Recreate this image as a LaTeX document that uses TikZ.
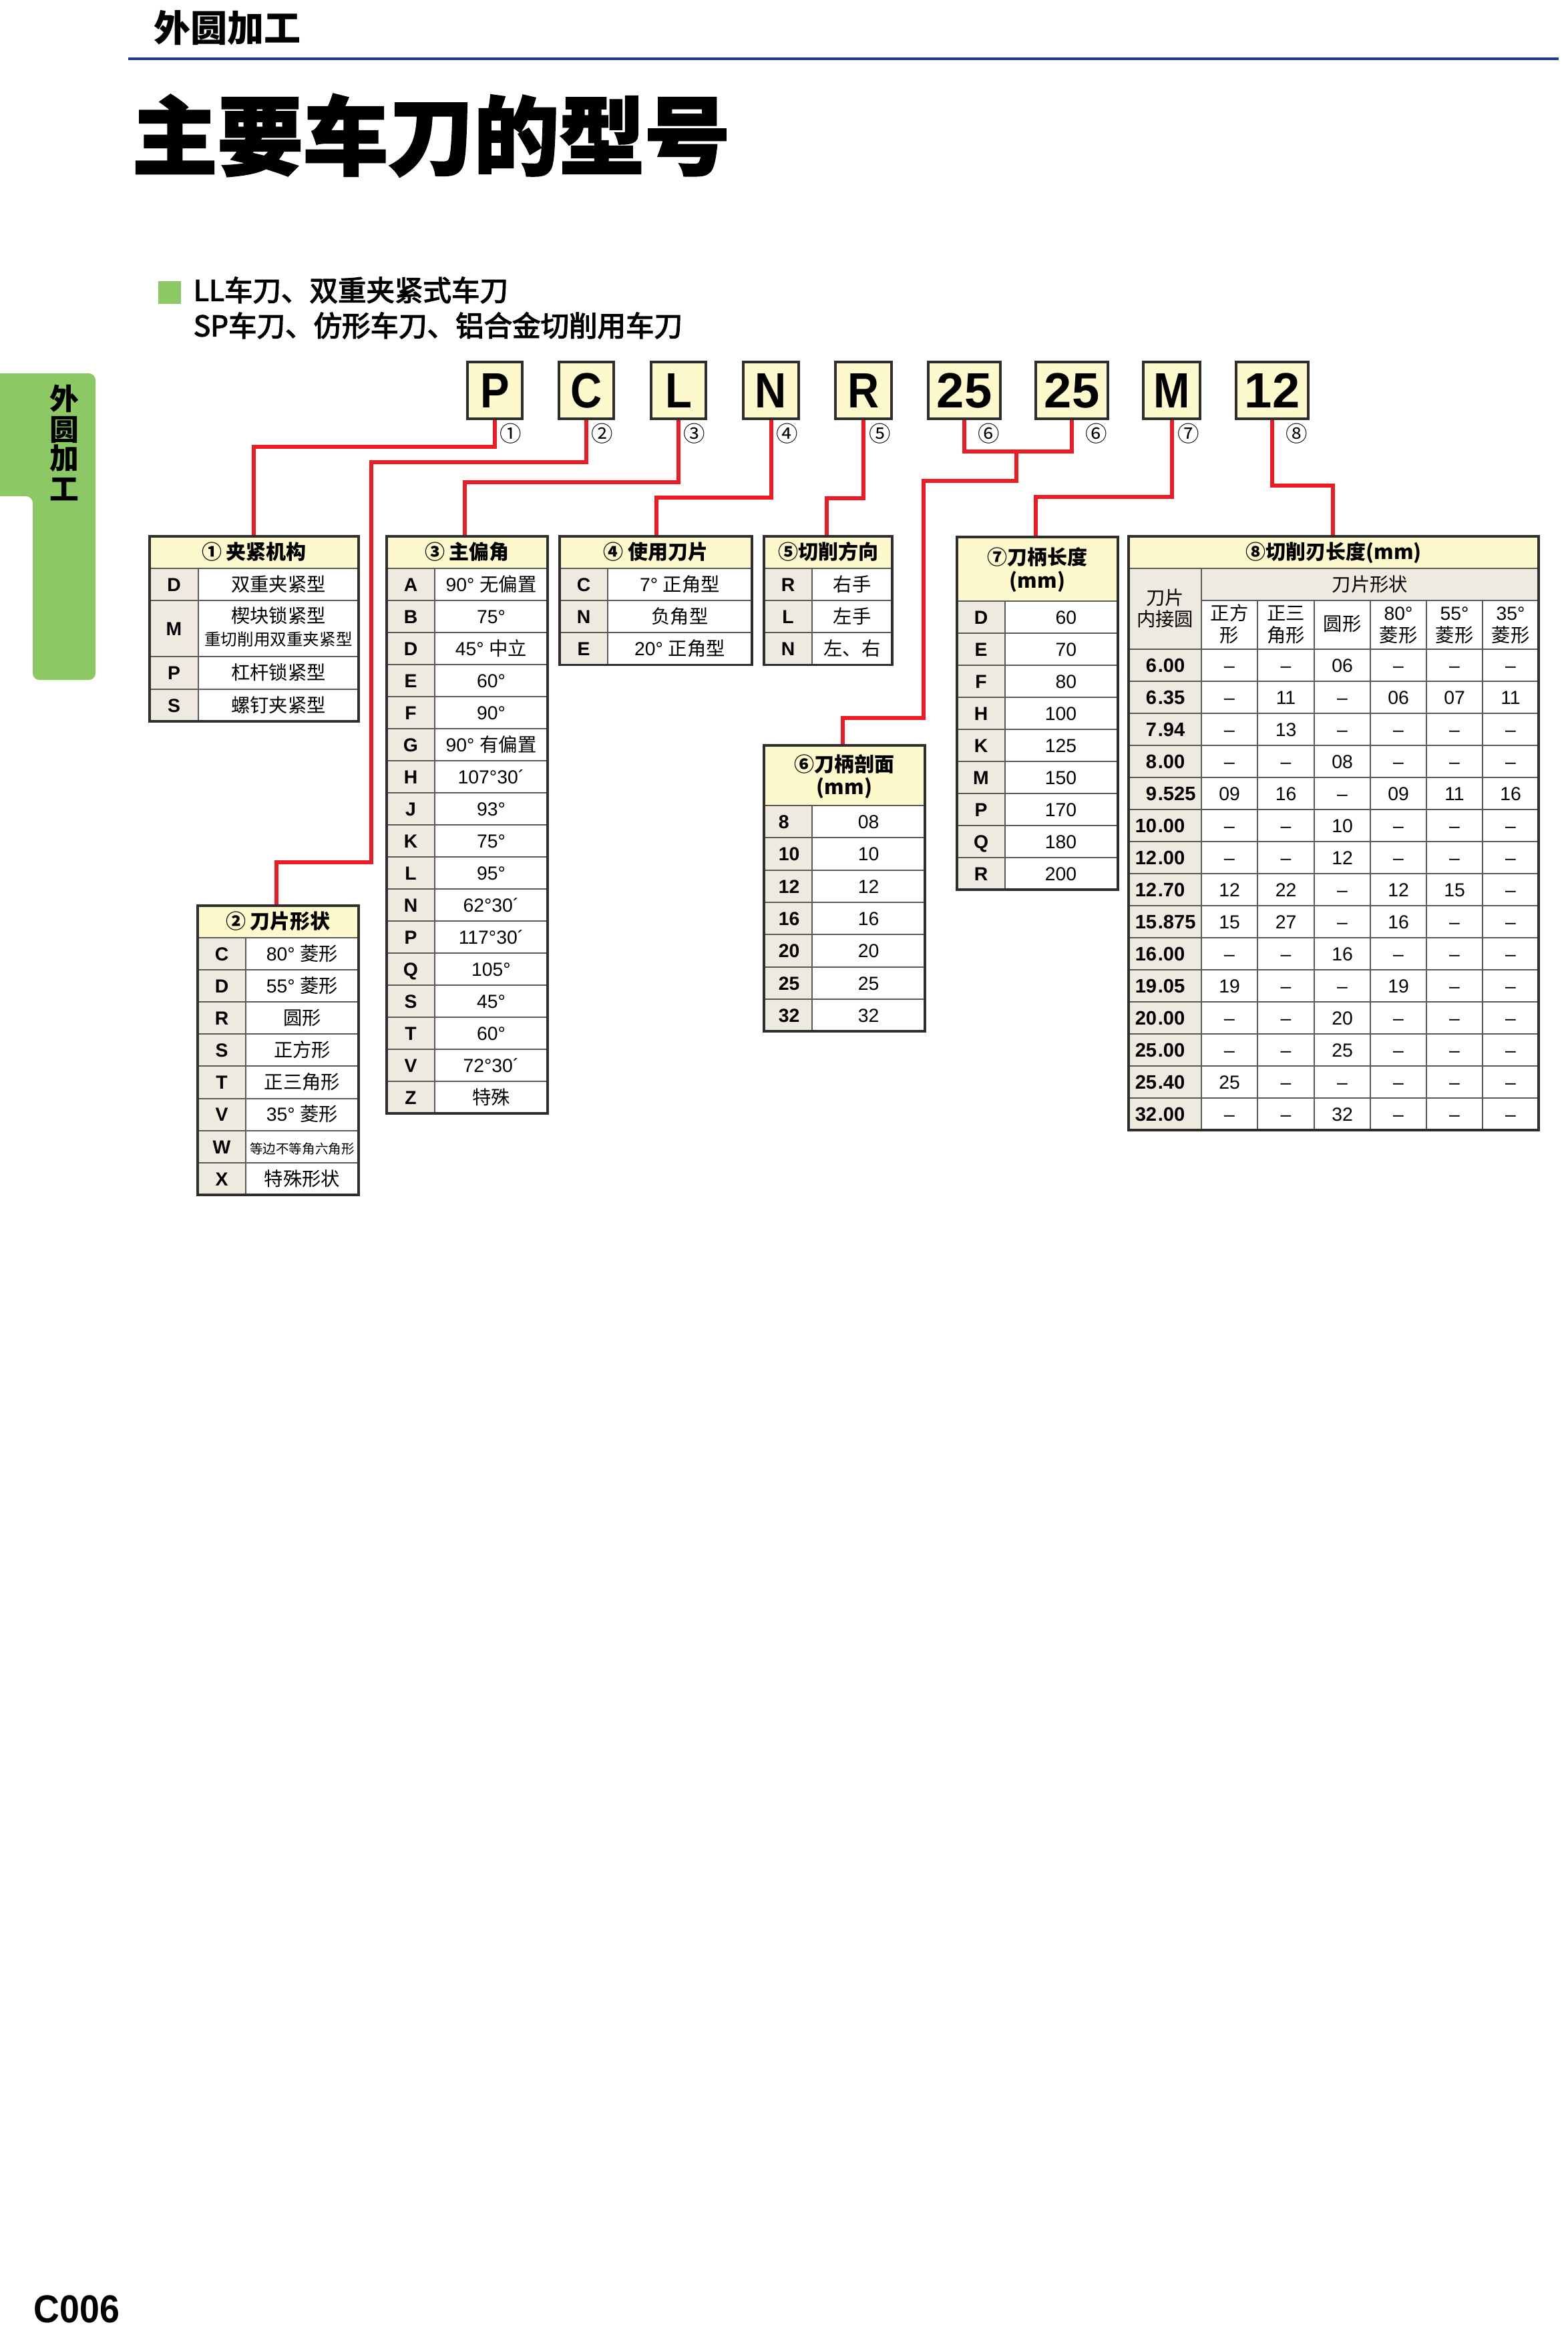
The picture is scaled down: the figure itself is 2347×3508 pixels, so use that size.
\documentclass[tikz,border=0pt]{standalone}
\usepackage{fontspec}
\setmainfont{Liberation Sans}
\newfontfamily\cjk{Noto Sans CJK SC}
\newfontfamily\cjkmed[FakeBold=3]{Noto Sans CJK SC}
\newfontfamily\titlefont[FakeBold=2]{Noto Sans CJK SC}
\newdimen\px \px=0.24pt
\definecolor{hdry}{HTML}{FEF9CC}
\definecolor{beige}{HTML}{EEEAE0}
\definecolor{redl}{HTML}{ED1C24}
\definecolor{tabg}{HTML}{8CC864}
\definecolor{navy}{HTML}{1E3A8C}
\definecolor{outerc}{HTML}{2E2E2E}
\definecolor{innerc}{HTML}{5A5A5A}
\newcommand\C[1]{{\cjk #1}}
\newcommand\CB[1]{{\cjk\bfseries #1}}
\newcommand\fs[1]{\fontsize{#1}{#1}\selectfont}
\tikzset{
 txt/.style={inner sep=0pt, font=\fs{#1pt}, text height={0.76*#1pt}, text depth={0.03*#1pt}},
 btxt/.style={inner sep=0pt, font=\fs{#1pt}\bfseries, text height={0.76*#1pt}, text depth={0.03*#1pt}},
 outer/.style={draw=outerc, line width=3.5\px},
 inner/.style={draw=innerc, line width=2\px},
 conn/.style={draw=redl, line width=6\px},
 lbox/.style={draw=outerc, line width=4\px, fill=hdry, inner sep=0pt, minimum height=85\px, font=\fs{17.8pt}\bfseries, text height=12.7pt, text depth=0pt},
 circ/.style={txt=7.8, anchor=east, font=\cjk\fs{7.8pt}},
}
\newcommand\frametable[7]{%
 \fill[hdry] (#1,#4) rectangle (#3,#5);
 \fill[beige] (#1,#5) rectangle (#2,{#5+#6*#7});
 \foreach \k in {0,...,#6} \draw[inner] (#1,{#5+\k*#7}) -- (#3,{#5+\k*#7});
 \draw[inner] (#2,#5) -- (#2,{#5+#6*#7});
 \draw[outer] (#1,#4) rectangle (#3,{#5+#6*#7});
}
\begin{document}
\begin{tikzpicture}[x=0.24pt,y=-0.24pt]
\useasboundingbox (0,0) rectangle (2347,3508);

% side tab
\fill[tabg, rounded corners=10\px] (-30,559) -- (143,559) -- (143,1018) -- (49,1018) -- (49,743) -- (-30,743) -- cycle;
\foreach \ch/\yy [count=\i] in {外/598,圆/644,加/687,工/733}
  \node[txt=10.5, font=\cjk\bfseries\fs{10.5pt}] (tab\i) at (96,\yy) {\ch};

% heading
\node[txt=13.2, anchor=west, font=\cjk\bfseries\fs{13.2pt}] (sect) at (230,42) {外圆加工};
\draw[navy, line width=4\px] (192,88) -- (2334,88);
\node[txt=30.7, anchor=west, font=\titlefont\bfseries\fs{30.7pt}] (title) at (197,205) {主要车刀的型号};

\fill[tabg] (237,421) rectangle (271,455);
\node[txt=10.2, anchor=west, font=\cjkmed\fs{10.2pt}] (sub1) at (289,435) {LL车刀、双重夹紧式车刀};
\node[txt=10.2, anchor=west, font=\cjkmed\fs{10.2pt}] (sub2) at (289,488) {SP车刀、仿形车刀、铝合金切削用车刀};

% code letters
\node[lbox, minimum width=82\px] (bP) at (741,584.5) {\scalebox{0.88}[1]{P}};
\node[lbox, minimum width=82\px] (bC) at (878,584.5) {\scalebox{0.88}[1]{C}};
\node[lbox, minimum width=82\px] (bL) at (1016,584.5) {\scalebox{0.88}[1]{L}};
\node[lbox, minimum width=83\px] (bN) at (1154.5,584.5) {\scalebox{0.88}[1]{N}};
\node[lbox, minimum width=84\px] (bR) at (1293,584.5) {\scalebox{0.88}[1]{R}};
\node[lbox, minimum width=108\px] (b25a) at (1444,584.5) {25};
\node[lbox, minimum width=108\px] (b25b) at (1605,584.5) {25};
\node[lbox, minimum width=85\px] (bM) at (1754.5,584.5) {\scalebox{0.88}[1]{M}};
\node[lbox, minimum width=108\px] (b12) at (1905,584.5) {12};

\node[circ] (n1) at (782,650) {①};
\node[circ] (n2) at (919,650) {②};
\node[circ] (n3) at (1057,650) {③};
\node[circ] (n4) at (1196,650) {④};
\node[circ] (n5) at (1335,650) {⑤};
\node[circ] (n6a) at (1498,650) {⑥};
\node[circ] (n6b) at (1659,650) {⑥};
\node[circ] (n7) at (1797,650) {⑦};
\node[circ] (n8) at (1959,650) {⑧};

% connector end points
\coordinate (t1top) at (380,803);
\coordinate (t2top) at (414,1356);
\coordinate (t3top) at (696,803);
\coordinate (t4top) at (983,803);
\coordinate (t5top) at (1238,803);
\coordinate (t6top) at (1262,1116);
\coordinate (t7top) at (1551,804);
\coordinate (t8top) at (1996,803);
\coordinate (r2) at (556,1291);
\coordinate (j6) at (1522,676);
\coordinate (r6) at (1383,1075);

\draw[conn] (bP.south) -- (bP.south |- 0,669) -| (t1top);
\draw[conn] (bC.south) -- (bC.south |- 0,692) -| (r2) -| (t2top);
\draw[conn] (bL.south) -- (bL.south |- 0,722) -| (t3top);
\draw[conn] (bN.south) -- (bN.south |- 0,745) -| (t4top);
\draw[conn] (bR.south) -- (bR.south |- 0,746) -| (t5top);
\draw[conn] (b25a.south) -- (b25a.south |- 0,676) -- (b25b.south |- 0,676) -- (b25b.south);
\draw[conn] (j6) -- (j6 |- 0,720) -| (r6) -| (t6top);
\draw[conn] (bM.south) -- (bM.south |- 0,744) -| (t7top);
\draw[conn] (b12.south) -- (b12.south |- 0,727) -| (t8top);

% ---- table 1
\fill[hdry] (224,803) rectangle (537,851);
\fill[beige] (224,851) rectangle (297,1080);
\foreach \yy in {851,899,983,1032} \draw[inner] (224,\yy) -- (537,\yy);
\draw[inner] (297,851) -- (297,1080);
\draw[outer] (224,803) rectangle (537,1080);
\node[txt=7.2] (h1) at (380.5,827) {\CB{① 夹紧机构}};
\node[btxt=6.8] (t1l1) at (260.5,875) {D};
\node[txt=6.8] (t1v1) at (417,875) {\C{双重夹紧型}};
\node[btxt=6.8] (t1l2) at (260.5,941) {M};
\node[txt=6.8] (t1v2a) at (417,922) {\C{楔块锁紧型}};
\node[txt=5.9] (t1v2b) at (417,958) {\C{重切削用双重夹紧型}};
\node[btxt=6.8] (t1l3) at (260.5,1007.5) {P};
\node[txt=6.8] (t1v3) at (417,1007.5) {\C{杠杆锁紧型}};
\node[btxt=6.8] (t1l4) at (260.5,1056) {S};
\node[txt=6.8] (t1v4) at (417,1056) {\C{螺钉夹紧型}};

% ---- table 2
\frametable{296}{368}{537}{1356}{1404}{8}{48.1}
\node[txt=7.2] (h2) at (416.5,1380) {\CB{② 刀片形状}};
\foreach \a/\b [count=\i] in {C/80° \C{菱形},D/55° \C{菱形},R/\C{圆形},S/\C{正方形},T/\C{正三角形},V/35° \C{菱形},W/{\fs{4.7pt}\C{等边不等角六角形}},X/\C{特殊形状}}{
  \node[btxt=6.8] (t2l\i) at (332,{1404+(\i-0.5)*48.1}) {\a};
  \node[txt=6.8] (t2v\i) at (452.5,{1404+(\i-0.5)*48.1}) {\b};
}

% ---- table 3
\frametable{579}{651}{820}{803}{851}{17}{48.0}
\node[txt=7.2] (h3) at (699.5,827) {\CB{③ 主偏角}};
\foreach \a/\b [count=\i] in {A/90° \C{无偏置},B/75°,D/45° \C{中立},E/60°,F/90°,G/90° \C{有偏置},H/107°30´,J/93°,K/75°,L/95°,N/62°30´,P/117°30´,Q/105°,S/45°,T/60°,V/72°30´,Z/\C{特殊}}{
  \node[btxt=6.8] (t3l\i) at (615,{851+(\i-0.5)*48.0}) {\a};
  \node[txt=6.8] (t3v\i) at (735.5,{851+(\i-0.5)*48.0}) {\b};
}

% ---- table 4
\frametable{838}{910}{1126}{803}{851}{3}{48.1}
\node[txt=7.2] (h4) at (982,827) {\CB{④ 使用刀片}};
\foreach \a/\b [count=\i] in {C/7° \C{正角型},N/\C{负角型},E/20° \C{正角型}}{
  \node[btxt=6.8] (t4l\i) at (874,{851+(\i-0.5)*48.1}) {\a};
  \node[txt=6.8] (t4v\i) at (1018,{851+(\i-0.5)*48.1}) {\b};
}

% ---- table 5
\frametable{1144}{1216}{1336}{803}{851}{3}{48.1}
\node[txt=7.2] (h5) at (1240,827) {\CB{⑤切削方向}};
\foreach \a/\b [count=\i] in {R/\C{右手},L/\C{左手},N/\C{左、右}}{
  \node[btxt=6.8] (t5l\i) at (1180,{851+(\i-0.5)*48.1}) {\a};
  \node[txt=6.8] (t5v\i) at (1276,{851+(\i-0.5)*48.1}) {\b};
}

% ---- table 6
\frametable{1144}{1216}{1385}{1116}{1206}{7}{48.3}
\node[txt=7.2] (h6a) at (1264.5,1145) {\CB{⑥刀柄剖面}};
\node[txt=7.2] (h6b) at (1264.5,1179) {\CB{(mm)}};
\foreach \a/\b [count=\i] in {8/08,10/10,12/12,16/16,20/20,25/25,32/32}{
  \node[btxt=6.8, anchor=west] (t6l\i) at (1165,{1206+(\i-0.5)*48.3}) {\a};
  \node[txt=6.8] (t6v\i) at (1300.5,{1206+(\i-0.5)*48.3}) {\b};
}

% ---- table 7
\frametable{1433}{1505}{1674}{804}{900}{9}{48.0}
\node[txt=7.2] (h7a) at (1553.5,835) {\CB{⑦刀柄长度}};
\node[txt=7.2] (h7b) at (1553.5,870) {\CB{(mm)}};
\foreach \a/\b [count=\i] in {D/60,E/70,F/80,H/100,K/125,M/150,P/170,Q/180,R/200}{
  \node[btxt=6.8] (t7l\i) at (1469,{900+(\i-0.5)*48.0}) {\a};
  \node[txt=6.8, anchor=east] (t7v\i) at (1613,{900+(\i-0.5)*48.0}) {\b};
}

% ---- table 8
\fill[hdry] (1690,803) rectangle (2304,851);
\fill[beige] (1690,851) rectangle (1799,1692);
\fill[beige] (1799,851) rectangle (2304,899);
\draw[inner] (1690,851) -- (2304,851);
\draw[inner] (1799,899) -- (2304,899);
\foreach \k in {0,...,14} \draw[inner] (1690,{972+\k*48}) -- (2304,{972+\k*48});
\draw[inner] (1799,851) -- (1799,1692);
\foreach \xx in {1883,1968,2052,2136,2220} \draw[inner] (\xx,899) -- (\xx,1692);
\draw[outer] (1690,803) rectangle (2304,1692);
\node[txt=7.2] (h8) at (1997,827) {\CB{⑧切削刃长度(mm)}};
\node[txt=6.8] (h8s) at (2051.5,875) {\C{刀片形状}};
\node[txt=6.8] (h8ca) at (1744.5,895) {\C{刀片}};
\node[txt=6.8] (h8cb) at (1744.5,927) {\C{内接圆}};
\node[txt=6.8] (h8c1a) at (1841,918) {\C{正方}};
\node[txt=6.8] (h8c1b) at (1841,951) {\C{形}};
\node[txt=6.8] (h8c2a) at (1925.5,918) {\C{正三}};
\node[txt=6.8] (h8c2b) at (1925.5,951) {\C{角形}};
\node[txt=6.8] (h8c3) at (2010,934) {\C{圆形}};
\node[txt=6.8] (h8c4a) at (2094,918) {80°};
\node[txt=6.8] (h8c4b) at (2094,951) {\C{菱形}};
\node[txt=6.8] (h8c5a) at (2178,918) {55°};
\node[txt=6.8] (h8c5b) at (2178,951) {\C{菱形}};
\node[txt=6.8] (h8c6a) at (2262,918) {35°};
\node[txt=6.8] (h8c6b) at (2262,951) {\C{菱形}};
\foreach \ip/\fp/\ca/\cb/\cc/\cd/\ce/\cf [count=\i] in {
 6/.00/–/–/06/–/–/–,
 6/.35/–/11/–/06/07/11,
 7/.94/–/13/–/–/–/–,
 8/.00/–/–/08/–/–/–,
 9/.525/09/16/–/09/11/16,
 10/.00/–/–/10/–/–/–,
 12/.00/–/–/12/–/–/–,
 12/.70/12/22/–/12/15/–,
 15/.875/15/27/–/16/–/–,
 16/.00/–/–/16/–/–/–,
 19/.05/19/–/–/19/–/–,
 20/.00/–/–/20/–/–/–,
 25/.00/–/–/25/–/–/–,
 25/.40/25/–/–/–/–/–,
 32/.00/–/–/32/–/–/–}{
  \node[btxt=7, anchor=east] (t8i\i) at (1733,{972+(\i-0.5)*48}) {\ip};
  \node[btxt=7, anchor=west] (t8f\i) at (1733,{972+(\i-0.5)*48}) {\fp};
  \node[txt=6.8] (t8a\i) at (1841,{972+(\i-0.5)*48}) {\ca};
  \node[txt=6.8] (t8b\i) at (1925.5,{972+(\i-0.5)*48}) {\cb};
  \node[txt=6.8] (t8c\i) at (2010,{972+(\i-0.5)*48}) {\cc};
  \node[txt=6.8] (t8d\i) at (2094,{972+(\i-0.5)*48}) {\cd};
  \node[txt=6.8] (t8e\i) at (2178,{972+(\i-0.5)*48}) {\ce};
  \node[txt=6.8] (t8g\i) at (2262,{972+(\i-0.5)*48}) {\cf};
}

% page number
\node[btxt=14, anchor=west] (page) at (50,3456) {\scalebox{0.92}[1]{C006}};
\end{tikzpicture}
\end{document}
